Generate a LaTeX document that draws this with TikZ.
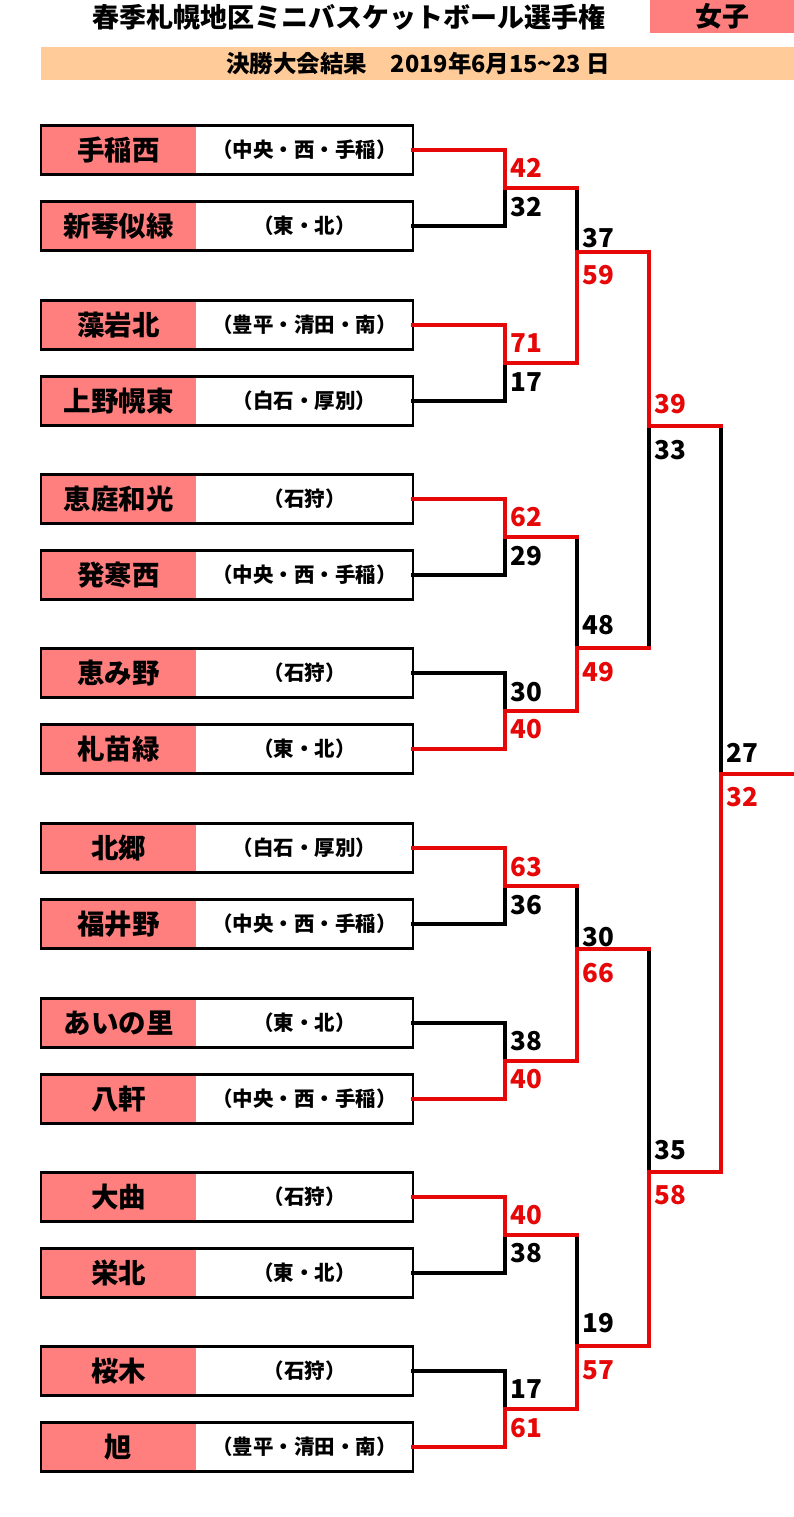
\documentclass[tikz,border=0pt]{standalone}
\usepackage{fontspec}
\newfontfamily\jp{Noto Sans CJK JP}
\definecolor{pinkc}{RGB}{255,127,127}
\definecolor{orangec}{RGB}{255,204,153}
\definecolor{redc}{RGB}{230,8,8}
\tikzset{
  namecell/.style={fill=pinkc, minimum width=155pt, minimum height=49pt, inner sep=0pt, outer sep=0pt, font=\jp\bfseries\fontsize{27.5}{27.5}\selectfont},
  regcell/.style={fill=white, minimum width=217pt, minimum height=49pt, inner sep=0pt, outer sep=0pt, font=\jp\bfseries\fontsize{20.5}{20.5}\selectfont},
  frame/.style={draw=black, line width=2.6pt},
  win/.style={draw=redc, line width=3.2pt, line cap=rect},
  lose/.style={draw=black, line width=3.2pt, line cap=rect},
  scw/.style={anchor=west, inner sep=0pt, text=redc, font=\jp\bfseries\fontsize{26}{26}\selectfont},
  scl/.style={anchor=west, inner sep=0pt, text=black, font=\jp\bfseries\fontsize{26}{26}\selectfont},
}
\begin{document}
\begin{tikzpicture}[x=1pt,y=-1pt]
\useasboundingbox (0,0) rectangle (794,1517);
\fill[white] (0,0) rectangle (794,1517);
% header
\node[font=\jp\bfseries\fontsize{27}{27}\selectfont, inner sep=0pt] (title) at (349,17) {春季札幌地区ミニバスケットボール選手権};
\node[fill=pinkc, minimum width=144pt, minimum height=33pt, anchor=north west, inner sep=0pt, font=\jp\bfseries\fontsize{27}{27}\selectfont] (sex) at (650,0) {女子};
\node[fill=orangec, minimum width=753pt, minimum height=33pt, anchor=north west, inner sep=0pt] (bar) at (41,47) {};
\node[font=\jp\bfseries\fontsize{23.5}{23.5}\selectfont, inner sep=0pt] (sub) at (418,64) {決勝大会結果　2019年6月15\char"7E 23 日};
% teams
\foreach \i/\y/\n/\r in {
  1/150/手稲西/（中央・西・手稲）,
  2/226/新琴似緑/（東・北）,
  3/325/藻岩北/（豊平・清田・南）,
  4/401/上野幌東/（白石・厚別）,
  5/499/恵庭和光/（石狩）,
  6/575/発寒西/（中央・西・手稲）,
  7/673/恵み野/（石狩）,
  8/749/札苗緑/（東・北）,
  9/848/北郷/（白石・厚別）,
  10/924/福井野/（中央・西・手稲）,
  11/1023/あいの里/（東・北）,
  12/1099/八軒/（中央・西・手稲）,
  13/1197/大曲/（石狩）,
  14/1273/栄北/（東・北）,
  15/1371/桜木/（石狩）,
  16/1447/旭/（豊平・清田・南）} {
  \node[namecell] (t\i) at (118.5,\y) {\n};
  \node[regcell] (r\i) at (304.5,\y) {\r};
  \draw[frame] (t\i.north west) rectangle (r\i.south east);
}
% junction coordinates
\coordinate (j1) at (505,188);
\coordinate (j2) at (505,363);
\coordinate (j3) at (505,537);
\coordinate (j4) at (505,711);
\coordinate (j5) at (505,886);
\coordinate (j6) at (505,1061);
\coordinate (j7) at (505,1235);
\coordinate (j8) at (505,1409);
\coordinate (k1) at (577,252);
\coordinate (k2) at (577,648);
\coordinate (k3) at (577,949);
\coordinate (k4) at (577,1346);
\coordinate (m1) at (649,426);
\coordinate (m2) at (649,1172);
\coordinate (f) at (721,774);
\coordinate (e) at (794,774);
% round 1 losers
\draw[lose] (r2.east) -| (j1);
\draw[lose] (r4.east) -| (j2);
\draw[lose] (r6.east) -| (j3);
\draw[lose] (r7.east) -| (j4);
\draw[lose] (r10.east) -| (j5);
\draw[lose] (r11.east) -| (j6);
\draw[lose] (r14.east) -| (j7);
\draw[lose] (r15.east) -| (j8);
% round 1 winners
\draw[win] (r1.east) -| (j1);
\draw[win] (r3.east) -| (j2);
\draw[win] (r5.east) -| (j3);
\draw[win] (r8.east) -| (j4);
\draw[win] (r9.east) -| (j5);
\draw[win] (r12.east) -| (j6);
\draw[win] (r13.east) -| (j7);
\draw[win] (r16.east) -| (j8);
% round 2
\draw[lose] (j1 -| k1) -- (k1);
\draw[lose] (j3 -| k2) -- (k2);
\draw[lose] (j5 -| k3) -- (k3);
\draw[lose] (j7 -| k4) -- (k4);
\draw[win] (j1) -- (j1 -| k1);
\draw[win] (j3) -- (j3 -| k2);
\draw[win] (j5) -- (j5 -| k3);
\draw[win] (j7) -- (j7 -| k4);
\draw[win] (j2) -| (k1);
\draw[win] (j4) -| (k2);
\draw[win] (j6) -| (k3);
\draw[win] (j8) -| (k4);
% round 3
\draw[lose] (k2 -| m1) -- (m1);
\draw[lose] (k3 -| m2) -- (m2);
\draw[win] (k2) -- (k2 -| m1);
\draw[win] (k3) -- (k3 -| m2);
\draw[win] (k1) -| (m1);
\draw[win] (k4) -| (m2);
% final
\draw[lose] (m1 -| f) -- (f);
\draw[win] (m1) -- (m1 -| f);
\draw[win] (m2) -| (f) -- (e);
% scores round 1
\node[scw] (s1) at (510,168) {42};
\node[scl] (s2) at (510,207) {32};
\node[scw] (s3) at (510,343) {71};
\node[scl] (s4) at (510,382) {17};
\node[scw] (s5) at (510,517) {62};
\node[scl] (s6) at (510,556) {29};
\node[scl] (s7) at (510,692) {30};
\node[scw] (s8) at (510,729) {40};
\node[scw] (s9) at (510,867) {63};
\node[scl] (s10) at (510,905) {36};
\node[scl] (s11) at (510,1041) {38};
\node[scw] (s12) at (510,1079) {40};
\node[scw] (s13) at (510,1215) {40};
\node[scl] (s14) at (510,1253) {38};
\node[scl] (s15) at (510,1389) {17};
\node[scw] (s16) at (510,1428) {61};
% scores round 2
\node[scl] (s17) at (582,238) {37};
\node[scw] (s18) at (582,275) {59};
\node[scl] (s19) at (582,625) {48};
\node[scw] (s20) at (582,672) {49};
\node[scl] (s21) at (582,937) {30};
\node[scw] (s22) at (582,973) {66};
\node[scl] (s23) at (582,1323) {19};
\node[scw] (s24) at (582,1370) {57};
% scores round 3
\node[scw] (s25) at (654,404) {39};
\node[scl] (s26) at (654,450) {33};
\node[scl] (s27) at (654,1150) {35};
\node[scw] (s28) at (654,1195) {58};
% final scores
\node[scl] (s29) at (726,753) {27};
\node[scw] (s30) at (726,797) {32};
\end{tikzpicture}
\end{document}
